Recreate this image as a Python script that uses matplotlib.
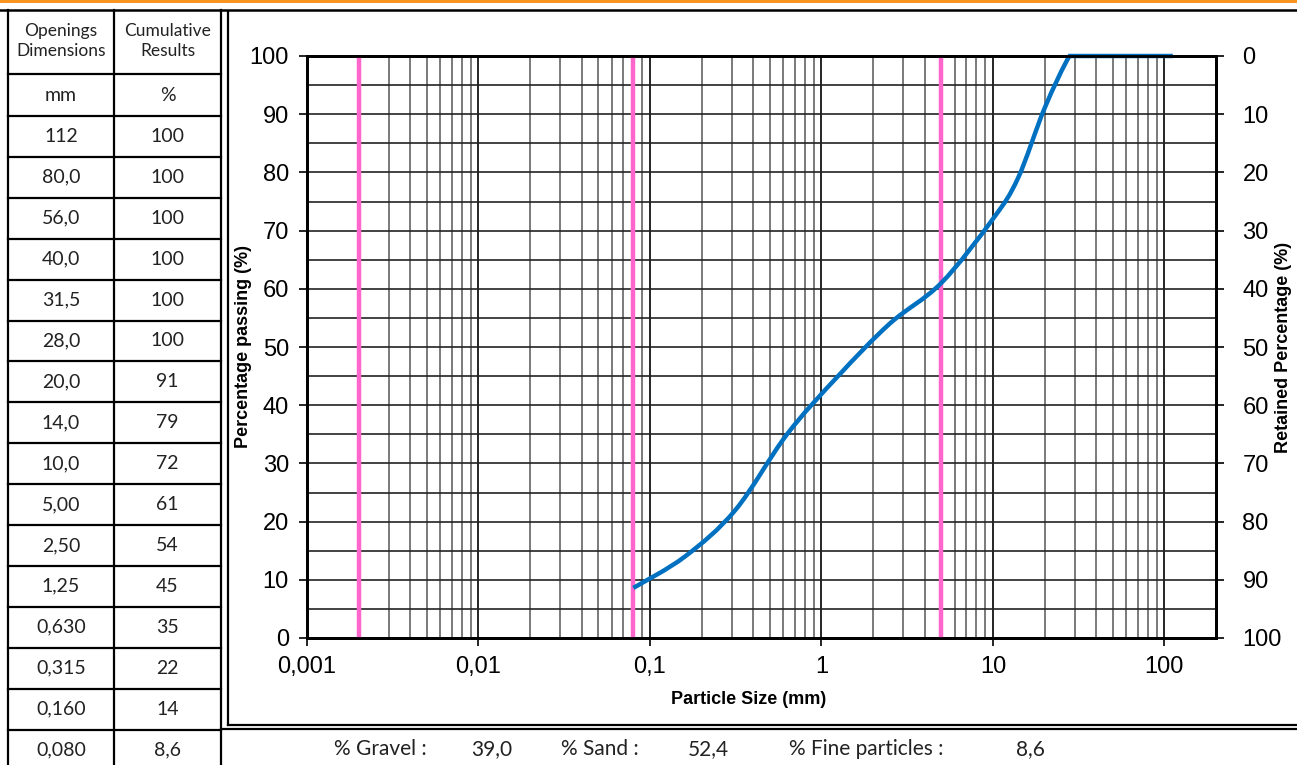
import matplotlib
matplotlib.use("Agg")
import matplotlib.pyplot as plt
import numpy as np
from matplotlib.path import Path
from matplotlib.patches import PathPatch
from matplotlib.ticker import FixedLocator, FixedFormatter, LogLocator, MultipleLocator

# sieve table (coarse -> fine)
size_labels = ["112", "80,0", "56,0", "40,0", "31,5", "28,0", "20,0", "14,0",
               "10,0", "5,00", "2,50", "1,25", "0,630", "0,315", "0,160", "0,080"]
passing_labels = ["100", "100", "100", "100", "100", "100", "91", "79",
                  "72", "61", "54", "45", "35", "22", "14", "8,6"]
sizes = [112, 80, 56, 40, 31.5, 28, 20, 14, 10, 5, 2.5, 1.25, 0.63, 0.315, 0.16, 0.08]
passing = [100, 100, 100, 100, 100, 100, 91, 79, 72, 61, 54, 45, 35, 22, 14, 8.6]

# class limits (clay / fines / gravel)
limits = [0.002, 0.08, 5]

x_ticks = [0.001, 0.01, 0.1, 1, 10, 100]
x_tick_labels = ["0,001", "0,01", "0,1", "1", "10", "100"]

summary_labels = ["% Gravel :", "% Sand :", "% Fine particles :"]
summary_values = ["39,0", "52,4", "8,6"]

W, H = 1297, 765
fig = plt.figure(figsize=(W / 100, H / 100), dpi=100)

# background layer in pixel coords for the table and frames
bg = fig.add_axes([0, 0, 1, 1])
bg.set_xlim(0, W)
bg.set_ylim(H, 0)
bg.axis("off")

tfont = "Lato"
tcol = "#222222"
bg.axhspan(0, 3, color="#f7941d", lw=0)
bg.plot([0, W], [9.5, 9.5], color="black", lw=1.8)

# table
xl, xm, xr = 8, 114, 221
row0 = 116
rh = 40.9
for xv in (xl, xm, xr):
    bg.plot([xv, xv], [9.5, H], color="black", lw=1.6)
bg.plot([xl, xr], [74, 74], color="black", lw=1.6)
for i in range(len(sizes)):
    y = row0 + rh * i
    bg.plot([xl, xr], [y, y], color="black", lw=1.6)
    yc = y + rh / 2
    bg.text((xl + xm) / 2, yc, size_labels[i], ha="center", va="center",
            fontsize=14, family=tfont, color=tcol)
    bg.text((xm + xr) / 2, yc, passing_labels[i], ha="center", va="center",
            fontsize=14, family=tfont, color=tcol)
bg.text((xl + xm) / 2, 41, "Openings\nDimensions", ha="center", va="center",
        fontsize=12.5, family=tfont, color=tcol, linespacing=1.25)
bg.text((xm + xr) / 2, 41, "Cumulative\nResults", ha="center", va="center",
        fontsize=12.5, family=tfont, color=tcol, linespacing=1.25)
bg.text((xl + xm) / 2, 95, "mm", ha="center", va="center", fontsize=14,
        family=tfont, color=tcol)
bg.text((xm + xr) / 2, 95, "%", ha="center", va="center", fontsize=14,
        family=tfont, color=tcol)

# chart frame
bg.plot([228, 228], [12, 724.5], color="black", lw=1.6)
bg.plot([228, W], [724.5, 724.5], color="black", lw=1.6)
bg.plot([xr, W], [728.5, 728.5], color="black", lw=1.6)

# summary row
label_x = [380, 600, 866]
value_x = [492, 708, 1030]
for lx, vx, lab, val in zip(label_x, value_x, summary_labels, summary_values):
    bg.text(lx, 749, lab, ha="center", va="center", fontsize=15, family=tfont,
            color=tcol)
    bg.text(vx, 749, val, ha="center", va="center", fontsize=15, family=tfont,
            color=tcol)

# main chart
ax = fig.add_axes([307 / W, 127 / H, (1216 - 307) / W, (638 - 56) / H])
ax.set_xscale("log")
ax.set_xlim(0.001, 200)
ax.set_ylim(0, 100)

ax.xaxis.set_major_locator(FixedLocator(x_ticks))
ax.xaxis.set_major_formatter(FixedFormatter(x_tick_labels))
ax.xaxis.set_minor_locator(LogLocator(base=10, subs=np.arange(2, 10)))
ax.xaxis.set_minor_formatter(FixedFormatter([]))
ax.yaxis.set_major_locator(MultipleLocator(10))
ax.yaxis.set_minor_locator(MultipleLocator(5))

ax.grid(which="major", axis="x", color="black", lw=1.2)
ax.grid(which="minor", axis="x", color="#7a7a7a", lw=1.4)
ax.grid(which="both", axis="y", color="#222222", lw=1.2)
ax.set_axisbelow(True)

ax.tick_params(which="major", direction="out", length=6, width=1.2, pad=7,
               labelsize=17)
ax.tick_params(which="minor", length=0)
for lab in ax.get_xticklabels() + ax.get_yticklabels():
    lab.set_family("Liberation Sans")
for sp in ax.spines.values():
    sp.set_linewidth(2)

for lim in limits:
    ax.axvline(lim, color="#ff66cc", lw=3.2, zorder=3)

# smoothed curve (Excel-style Catmull-Rom bezier in log space)
px = np.log10(sizes[::-1])
py = np.array(passing[::-1], dtype=float)
n = len(px)
verts = [(10 ** px[0], py[0])]
codes = [Path.MOVETO]
for i in range(n - 1):
    i0 = max(i - 1, 0)
    i3 = min(i + 2, n - 1)
    c1x = px[i] + (px[i + 1] - px[i0]) / 6
    c1y = min(py[i] + (py[i + 1] - py[i0]) / 6, 100)
    c2x = px[i + 1] - (px[i3] - px[i]) / 6
    c2y = min(py[i + 1] - (py[i3] - py[i]) / 6, 100)
    verts += [(10 ** c1x, c1y), (10 ** c2x, c2y), (10 ** px[i + 1], py[i + 1])]
    codes += [Path.CURVE4] * 3
ax.add_patch(PathPatch(Path(verts, codes), facecolor="none", edgecolor="#0070c0",
                       lw=3.2, zorder=4, capstyle="butt", clip_on=False))

lab_font = dict(fontsize=13, fontweight="bold", family="Liberation Sans")
ax.set_xlabel("Particle Size (mm)", **lab_font)
ax.xaxis.set_label_coords((749 - 307) / (1216 - 307), -(691 - 638) / (638 - 56))
ax.set_ylabel("Percentage passing (%)", **lab_font)
ax.yaxis.set_label_coords(-(307 - 252) / (1216 - 307), 0.5)

ax2 = ax.twinx()
ax2.set_ylim(100, 0)
ax2.yaxis.set_major_locator(MultipleLocator(10))
ax2.tick_params(direction="out", length=6, width=1.2, pad=13, labelsize=17)
for lab in ax2.get_yticklabels():
    lab.set_family("Liberation Sans")
for sp in ax2.spines.values():
    sp.set_linewidth(2)
ax2.set_ylabel("Retained Percentage (%)", **lab_font)
ax2.yaxis.set_label_coords(1 + (1275 - 1216) / (1216 - 307), 0.5)

fig.savefig("out.png", dpi=100)
